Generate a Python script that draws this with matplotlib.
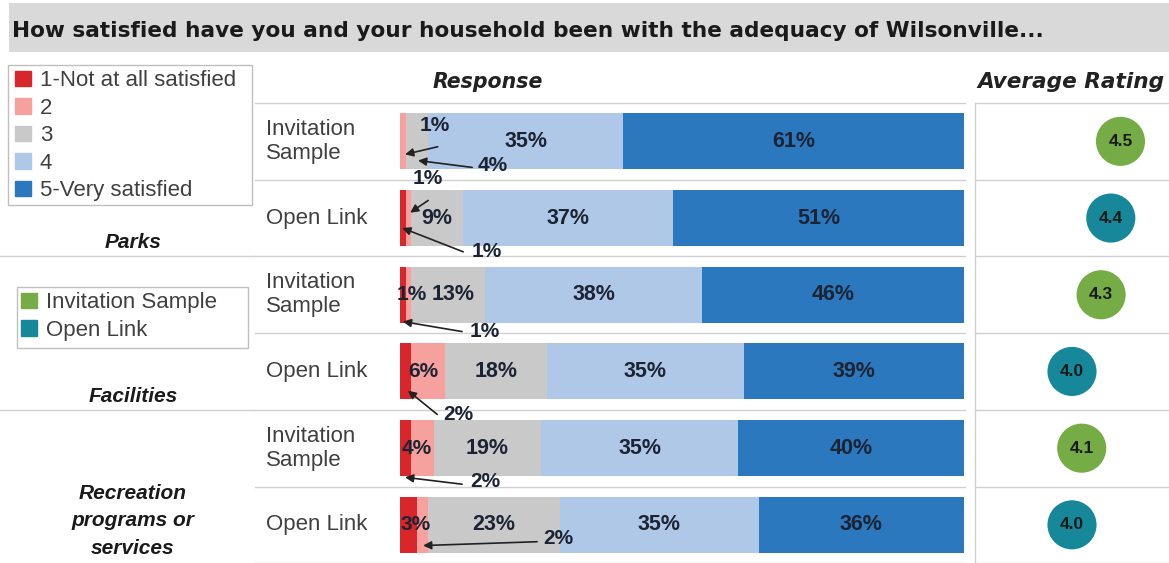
import numpy as np
import matplotlib
matplotlib.use('Agg')
import matplotlib.pyplot as plt
from matplotlib.patches import Patch, Rectangle

# data
levels = ["1-Not at all satisfied", "2", "3", "4", "5-Very satisfied"]
samples = ["Invitation Sample", "Open Link"]
categories = ["Parks", "Facilities", "Recreation\nprograms or\nservices"]
row_labels = ["Invitation\nSample", "Open Link"] * 3
pct_1 = [0, 1, 1, 2, 2, 3]
pct_2 = [1, 1, 1, 6, 4, 2]
pct_3 = [4, 9, 13, 18, 19, 23]
pct_4 = [35, 37, 38, 35, 35, 35]
pct_5 = [61, 51, 46, 39, 40, 36]
avg_rating = [4.5, 4.4, 4.3, 4.0, 4.1, 4.0]

level_colors = ['#D9262B', '#F7A19E', '#C9C9C9', '#B0C8E8', '#2B78BE']
sample_colors = ['#76AC45', '#17889A']
txt_dark = '#1c2333'

W, H = 1169, 563
fig = plt.figure(figsize=(W / 100, H / 100), dpi=100)


def px_axes(x0, y0, x1, y1):
    return fig.add_axes([x0 / W, 1 - y1 / H, (x1 - x0) / W, (y1 - y0) / H])


# background / layout layer in pixel units
bg = px_axes(0, 0, W, H)
bg.set_xlim(0, W)
bg.set_ylim(H, 0)
bg.axis('off')

bg.add_patch(Rectangle((9, 3), W - 9, 49, color='#D9D9D9', lw=0))
bg.text(12, 31, "How satisfied have you and your household been with the adequacy of Wilsonville...",
        fontsize=15.6, fontweight='bold', color='#1a1a1a', va='center', ha='left', family='DejaVu Sans')

bg.text(488, 82, "Response", fontsize=14.8, fontweight='bold', style='italic',
        family='DejaVu Sans', color='#222222', ha='center', va='center')
bg.text(1071, 82, "Average Rating", fontsize=15.6, fontweight='bold', style='italic',
        family='DejaVu Sans', color='#222222', ha='center', va='center')

top, row_h = 103, 76.7
for i in range(7):
    y = top + i * row_h
    bg.plot([255, 965], [y, y], color='#D0D0D0', lw=1)
    bg.plot([975, W], [y, y], color='#D0D0D0', lw=1)
for y in [top + 2 * row_h, top + 4 * row_h]:
    bg.plot([0, 255], [y, y], color='#D0D0D0', lw=1)
bg.plot([975, 975], [top, H], color='#D0D0D0', lw=1)

for i, lab in enumerate(row_labels):
    bg.text(266, top + (i + 0.5) * row_h, lab, fontsize=16, family='Liberation Sans',
            color='#404040', ha='left', va='center', linespacing=1.2)

cat_y = [243, 396, 521]
for lab, y in zip(categories, cat_y):
    bg.text(133, y, lab, fontsize=15, family='Liberation Sans', fontweight='bold',
            style='italic', color='#1a1a1a', ha='center', va='center', linespacing=1.55)

# legends, frames drawn as plain boxes
bg.add_patch(Rectangle((8, 65), 244, 140, fill=False, edgecolor='#BFBFBF', lw=1))
bg.add_patch(Rectangle((17, 287), 231, 61, fill=False, edgecolor='#BFBFBF', lw=1))
leg1 = bg.legend([Patch(color=c) for c in level_colors], levels,
                 loc='upper left', bbox_to_anchor=(11 / W, 1 - 66 / H), bbox_transform=fig.transFigure,
                 prop={'family': 'Liberation Sans', 'size': 16}, handlelength=0.7, handleheight=0.7,
                 handletextpad=0.4, labelspacing=0.29, borderpad=0.2, borderaxespad=0,
                 frameon=False)
for t in leg1.get_texts():
    t.set_color('#404040')
bg.add_artist(leg1)
leg2 = bg.legend([Patch(color=c) for c in sample_colors], samples,
                 loc='upper left', bbox_to_anchor=(17 / W, 1 - 288 / H), bbox_transform=fig.transFigure,
                 prop={'family': 'Liberation Sans', 'size': 16}, handlelength=0.7, handleheight=0.7,
                 handletextpad=0.4, labelspacing=0.29, borderpad=0.2, borderaxespad=0,
                 frameon=False)
for t in leg2.get_texts():
    t.set_color('#404040')

# stacked bars (rows scaled to a full 100% width, labels keep the rounded values)
ax = px_axes(400, top, 964, top + 6 * row_h)
ax.set_xlim(0, 100)
ax.set_ylim(5.5, -0.5)
ax.axis('off')

rows = np.arange(6)
series = [pct_1, pct_2, pct_3, pct_4, pct_5]
totals = np.sum(series, axis=0)
left = np.zeros(6)
for vals, col in zip(series, level_colors):
    vals = np.array(vals, dtype=float)
    widths = vals / totals * 100
    ax.barh(rows, widths, left=left, height=0.73, color=col, lw=0)
    for r in rows:
        if vals[r] >= 9:
            dx = 0.8 if vals[r] == 13 else 0
            ax.text(left[r] + widths[r] / 2 + dx, r, f"{int(vals[r])}%", ha='center', va='center',
                    fontsize=15.5, fontweight='bold', family='Liberation Sans', color=txt_dark)
    left += widths

# small-segment labels: (row, series index, text pos, arrow tail, arrow head)
small = [
    (0, 1, (6.2, -0.21), (6.7, 0.07), (0.9, 0.17)),
    (0, 2, (16.5, 0.31), (12.8, 0.34), (3.2, 0.25)),
    (1, 1, (5.0, -0.52), (5.0, -0.23), (1.8, -0.07)),
    (1, 0, (15.4, 0.44), (11.2, 0.44), (0.4, 0.13)),
    (2, 1, (2.0, 0.0), None, None),
    (2, 0, (15.1, 0.48), (11.0, 0.48), (0.5, 0.35)),
    (3, 1, (4.1, 0.0), None, None),
    (3, 0, (10.3, 0.56), (6.6, 0.56), (1.4, 0.25)),
    (4, 1, (3.0, 0.0), None, None),
    (4, 0, (15.1, 0.44), (11.0, 0.47), (0.9, 0.38)),
    (5, 0, (2.7, 0.0), None, None),
    (5, 1, (28.0, 0.18), (24.3, 0.22), (4.1, 0.27)),
]
for r, s, (tx, ty), tail, head in small:
    ax.text(tx, r + ty, f"{series[s][r]}%", ha='center', va='center', fontsize=15,
            fontweight='bold', family='Liberation Sans', color=txt_dark, clip_on=False)
    if tail is not None:
        ax.annotate('', xy=(head[0], r + head[1]), xytext=(tail[0], r + tail[1]),
                    arrowprops=dict(arrowstyle='-|>', color='#222222', lw=1.2,
                                    mutation_scale=12, shrinkA=0, shrinkB=0),
                    annotation_clip=False)

# average rating
axr = px_axes(975, top, W, top + 6 * row_h)
axr.set_xlim(3, 5)
axr.set_ylim(5.5, -0.5)
axr.axis('off')
dot_cols = [sample_colors[i % 2] for i in rows]
axr.scatter(avg_rating, rows, s=1250, c=dot_cols, lw=0, zorder=3)
for r, v in zip(rows, avg_rating):
    axr.text(v, r, f"{v:.1f}", ha='center', va='center', fontsize=12.5, fontweight='bold',
             family='Liberation Sans', color='#1a1a1a', zorder=4)

fig.savefig('out.png', dpi=100)
